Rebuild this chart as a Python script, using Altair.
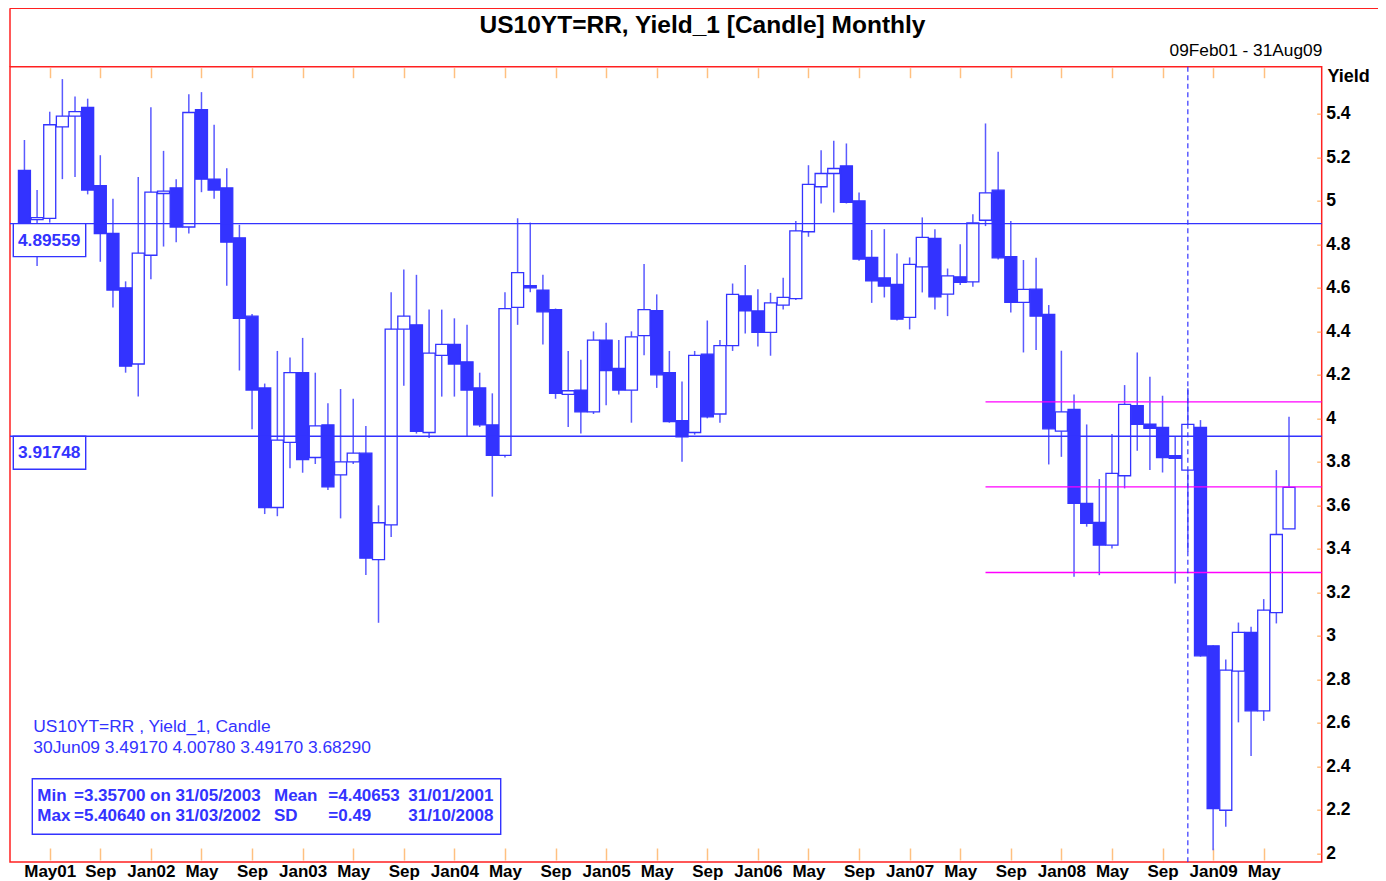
import json
import altair as alt
import pandas as pd

# ---- data (monthly candles, Feb 2001 .. Jun 2009) ----
open_ = [5.14, 4.914, 4.92, 5.34, 5.39, 5.43, 5.07, 4.85, 4.60, 4.25,
         4.75, 5.034, 5.06, 4.88, 5.42, 5.10, 5.06, 4.83, 4.47, 4.14,
         3.59, 3.89, 4.21, 3.82, 3.97, 3.74, 3.80, 3.84, 3.35, 3.51,
         4.41, 4.43, 3.935, 4.29, 4.34, 4.26, 4.14, 3.97, 3.83, 4.51,
         4.61, 4.59, 4.50, 4.11, 4.13, 4.03, 4.36, 4.23, 4.13, 4.38,
         4.495, 4.21, 3.99, 3.935, 4.295, 4.02, 4.334, 4.563, 4.494, 4.395,
         4.521, 4.551, 4.858, 5.065, 5.126, 5.161, 5.000, 4.740, 4.646, 4.616,
         4.464, 4.697, 4.827, 4.571, 4.651, 4.628, 4.911, 5.049, 4.743, 4.533,
         4.594, 4.478, 3.941, 4.041, 3.609, 3.521, 3.417, 3.736, 4.058, 3.973,
         3.958, 3.828, 3.762, 3.958, 2.954, 2.198, 2.838, 3.016, 2.655, 3.107,
         3.4917]
high = [5.28, 5.05, 5.41, 5.56, 5.48, 5.47, 5.21, 5.01, 4.63, 5.11,
        5.43, 5.23, 5.10, 5.49, 5.50, 5.35, 5.15, 4.89, 4.48, 4.16,
        4.31, 4.28, 4.37, 4.21, 4.07, 4.135, 4.09, 3.965, 3.60, 4.58,
        4.685, 4.66, 4.50, 4.50, 4.46, 4.43, 4.21, 4.115, 4.58, 4.92,
        4.90, 4.66, 4.505, 4.31, 4.27, 4.40, 4.44, 4.36, 4.40, 4.71,
        4.57, 4.31, 4.17, 4.31, 4.45, 4.36, 4.62, 4.705, 4.594, 4.577,
        4.646, 4.908, 5.164, 5.233, 5.276, 5.264, 5.039, 4.866, 4.870, 4.758,
        4.740, 4.924, 4.870, 4.689, 4.801, 4.938, 5.356, 5.226, 4.907, 4.728,
        4.738, 4.521, 4.311, 4.110, 3.972, 3.721, 3.928, 4.153, 4.303, 4.191,
        4.104, 3.915, 4.138, 3.992, 2.957, 2.891, 3.061, 3.042, 3.169, 3.762,
        4.0078]
low = [4.88, 4.70, 4.90, 5.10, 5.11, 5.03, 4.72, 4.51, 4.21, 4.10,
       4.64, 4.79, 4.81, 4.85, 5.04, 5.01, 4.61, 4.22, 3.95, 3.56,
       3.55, 3.77, 3.75, 3.79, 3.67, 3.54, 3.79, 3.28, 3.06, 3.455,
       4.15, 3.93, 3.91, 4.10, 4.10, 3.915, 3.96, 3.64, 3.82, 4.43,
       4.58, 4.34, 4.09, 3.96, 3.93, 4.02, 4.06, 4.11, 3.98, 4.29,
       4.14, 3.98, 3.80, 3.925, 4.00, 3.98, 4.31, 4.39, 4.33, 4.288,
       4.501, 4.544, 4.835, 4.988, 4.947, 4.988, 4.725, 4.531, 4.556, 4.45,
       4.409, 4.579, 4.501, 4.470, 4.613, 4.605, 4.884, 4.731, 4.487, 4.303,
       4.314, 3.788, 3.823, 3.272, 3.502, 3.279, 3.402, 3.678, 3.851, 3.762,
       3.751, 3.241, 3.387, 2.904, 2.014, 2.122, 2.602, 2.447, 2.609, 3.057,
       3.4917]
close = [4.90, 4.923, 5.35, 5.39, 5.41, 5.05, 4.85, 4.59, 4.24, 4.76,
         5.04, 5.045, 4.88, 5.4064, 5.10, 5.05, 4.81, 4.46, 4.13, 3.59,
         3.90, 4.21, 3.81, 3.965, 3.685, 3.80, 3.84, 3.357, 3.52, 4.41,
         4.47, 3.94, 4.30, 4.34, 4.25, 4.13, 3.97, 3.83, 4.505, 4.67,
         4.60, 4.49, 4.115, 4.127, 4.03, 4.36, 4.22, 4.13, 4.375, 4.50,
         4.20, 3.985, 3.915, 4.29, 4.007, 4.334, 4.57, 4.494, 4.395, 4.531,
         4.556, 4.862, 5.076, 5.126, 5.149, 4.993, 4.732, 4.632, 4.608, 4.456,
         4.708, 4.832, 4.559, 4.655, 4.625, 4.899, 5.037, 4.738, 4.533, 4.593,
         4.470, 3.952, 4.030, 3.609, 3.517, 3.417, 3.747, 4.064, 3.973, 3.954,
         3.820, 3.816, 3.972, 2.908, 2.206, 2.842, 3.016, 2.655, 3.118, 3.466,
         3.6829]

tick_index = [2, 6, 10, 14, 18, 22, 26, 30, 34, 38, 42, 46, 50,
              54, 58, 62, 66, 70, 74, 78, 82, 86, 90, 94, 98]
tick_labels = ["May01", "Sep", "Jan02", "May", "Sep", "Jan03", "May", "Sep",
               "Jan04", "May", "Sep", "Jan05", "May", "Sep", "Jan06", "May",
               "Sep", "Jan07", "May", "Sep", "Jan08", "May", "Sep", "Jan09", "May"]
y_ticks = [2.0, 2.2, 2.4, 2.6, 2.8, 3.0, 3.2, 3.4, 3.6, 3.8, 4.0,
           4.2, 4.4, 4.6, 4.8, 5.0, 5.2, 5.4]
sd_levels = [4.89559, 3.91748]
fib_levels = [4.076, 3.685, 3.291]
fib_start = 76
marker_index = 92

title_text = "US10YT=RR, Yield_1 [Candle] Monthly"
range_text = "09Feb01 - 31Aug09"
info_lines = ["US10YT=RR , Yield_1, Candle",
              "30Jun09 3.49170 4.00780 3.49170 3.68290"]
stat_cols = [["Min", "Max"],
             ["=3.35700 on 31/05/2003", "=5.40640 on 31/03/2002"],
             ["Mean", "SD"],
             ["=4.40653", "=0.49"],
             ["31/01/2001", "31/10/2008"]]

# ---- build tables ----
df = pd.DataFrame({"idx": list(range(len(close))), "open": open_, "high": high,
                   "low": low, "close": close})
sd_df = pd.DataFrame({"level": sd_levels})
fib_df = pd.DataFrame({"level": fib_levels, "start": [fib_start] * len(fib_levels)})
one = pd.DataFrame({"k": [0]})

BLUE = "#3333ff"
FONT = "Liberation Sans"
W, H = 1311.7, 795.3

xscale = alt.Scale(domain=[-0.746, 102.19], nice=False, zero=False)
yscale = alt.Scale(domain=[1.96, 5.617], nice=False, zero=False)

label_expr = json.dumps(tick_labels) + "[round((datum.value - 2) / 4)]"

x_bottom = alt.Axis(orient="bottom", values=tick_index, labelExpr=label_expr,
                    title=None, grid=False, domain=False, offset=-14, tickSize=12,
                    tickColor="#ffc080", tickWidth=1.5, labelPadding=3,
                    labelFont=FONT, labelFontSize=17, labelFontWeight="bold",
                    labelColor="black", labelOverlap=False, labelFlush=False)
x_top = alt.Axis(orient="top", values=tick_index, labels=False, title=None,
                 grid=False, domain=False, offset=-11, tickSize=10,
                 tickColor="#ffc080", tickWidth=1.5)
y_axis = alt.Axis(orient="right", values=y_ticks, format="~g", title=None,
                  grid=False, domain=False, offset=-5, tickSize=4,
                  tickColor="#ffc080", tickWidth=1.5, labelPadding=5,
                  labelFont=FONT, labelFontSize=17.5, labelFontWeight="bold",
                  labelColor="black", labelOverlap=False, labelFlush=False)

wicks = alt.Chart(df).mark_rule(color="#5a5aff", strokeWidth=1.5).encode(
    x=alt.X("idx:Q", scale=xscale, axis=x_top),
    y=alt.Y("low:Q", scale=yscale, axis=y_axis),
    y2="high:Q",
)

bodies = alt.Chart(df).mark_bar(size=12, stroke=BLUE, strokeWidth=1.3).encode(
    x=alt.X("idx:Q", scale=xscale, axis=x_bottom),
    y=alt.Y("open:Q", scale=yscale),
    y2="close:Q",
    fill=alt.when("datum.close < datum.open").then(alt.value(BLUE)).otherwise(alt.value("#ffffff")),
)

sd_lines = alt.Chart(sd_df).mark_rule(color=BLUE, strokeWidth=1.4).encode(
    y=alt.Y("level:Q", scale=yscale))

fib_lines = alt.Chart(fib_df).mark_rule(color="#ff00ff", strokeWidth=1.4).encode(
    x=alt.X("start:Q", scale=xscale, axis=None), x2=alt.value(W),
    y=alt.Y("level:Q", scale=yscale))

marker = alt.Chart(one).mark_rule(color=BLUE, strokeWidth=1.2, strokeDash=[5, 3.5]).encode(
    x=alt.datum(marker_index, scale=xscale, axis=None))

sd_boxes = alt.Chart(sd_df).mark_rect(fill="white", stroke=BLUE, strokeWidth=1.4,
                                      y2Offset=33).encode(
    x=alt.value(3.3), x2=alt.value(75.7),
    y=alt.Y("level:Q", scale=yscale), y2="level:Q")

sd_text = alt.Chart(sd_df).mark_text(font=FONT, fontSize=17.3, fontWeight="bold",
                                     color=BLUE, align="center", baseline="middle",
                                     dy=17).encode(
    x=alt.value(39.2), y=alt.Y("level:Q", scale=yscale),
    text=alt.Text("level:Q", format=".5f"))


def txt(text, x, y, size=17, weight="normal", align="left", color=BLUE):
    return alt.Chart(one).mark_text(text=text, font=FONT, fontSize=size, fontWeight=weight,
                                    align=align, baseline="middle", color=color).encode(
        x=alt.value(x), y=alt.value(y))


frame_top = alt.Chart(one).mark_rule(color="#ff2020", strokeWidth=1.5).encode(
    x=alt.value(0), x2=alt.value(1368), y=alt.value(-58.4))
frame_left = alt.Chart(one).mark_rule(color="#ff2020", strokeWidth=1.5).encode(
    x=alt.value(0), y=alt.value(-58.4), y2=alt.value(0))

info_box = alt.Chart(one).mark_rect(fill="white", stroke=BLUE, strokeWidth=1.4).encode(
    x=alt.value(22.3), x2=alt.value(490.7), y=alt.value(712), y2=alt.value(767.6))

layers = [
    frame_top, frame_left,
    wicks, bodies, sd_lines, fib_lines, marker, sd_boxes, sd_text,
    txt(title_text, 692.5, -40.5, size=24.5, weight="bold", align="center", color="black"),
    txt(range_text, 1312.3, -15.5, size=17.3, align="right", color="black"),
    txt("Yield", 1317.5, 10.3, size=18, weight="bold", color="black"),
    txt(info_lines[0], 23.3, 660, size=17.4),
    txt(info_lines[1], 23.3, 681.6, size=17.4),
    info_box,
]
col_x = [27.3, 64, 264, 318.3, 398.3]
for cx, lines in zip(col_x, stat_cols):
    layers.append(txt(lines[0], cx, 729, size=17, weight="bold"))
    layers.append(txt(lines[1], cx, 749.5, size=17, weight="bold"))

chart = alt.layer(*layers).resolve_axis(x="independent").properties(
    width=W, height=H,
    autosize=alt.AutoSizeParams(type="none"),
    padding={"left": 2, "top": 58.7, "right": 56.3, "bottom": 19},
    background="white",
).configure_view(stroke="#ff2020", strokeWidth=1.5)

chart.save("out.html", embed_options={"renderer": "svg", "actions": False})
